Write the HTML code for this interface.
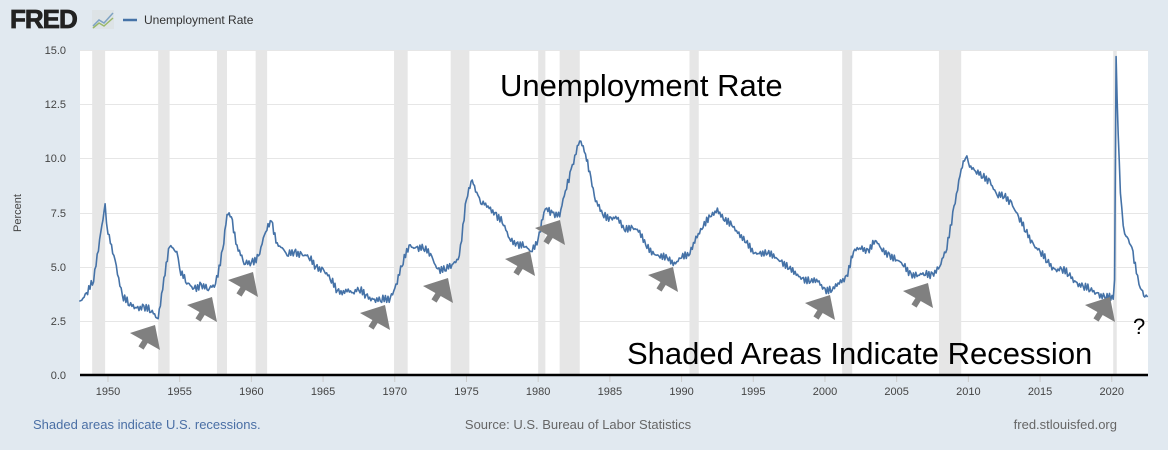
<!DOCTYPE html>
<html><head><meta charset="utf-8"><style>
body{margin:0;width:1168px;height:450px;background:#e1e9f0;font-family:"Liberation Sans",sans-serif;overflow:hidden}
</style></head><body>
<svg id="s" width="1168" height="450" xmlns="http://www.w3.org/2000/svg" style="position:absolute;left:0;top:0">
<text x="10" y="28" font-size="26" font-weight="bold" fill="#222" stroke="#222" stroke-width="0.8" letter-spacing="-1">FRED</text>
<rect x="92" y="10" width="22" height="19" fill="#dde3e6"/>
<polyline points="93,26 99,20 104,23 113,13" fill="none" stroke="#7fa3c4" stroke-width="1.5"/>
<polyline points="93,28 99,23 104,26 113,18" fill="none" stroke="#9ab86a" stroke-width="1.5"/>
<line x1="123" y1="20" x2="137" y2="20" stroke="#4572a7" stroke-width="2.5"/>
<text x="144" y="24" font-size="12" fill="#333">Unemployment Rate</text>
<rect x="80" y="50" width="1068" height="325" fill="#fff"/>
<g id="rec" fill="#e6e6e6"></g>
<g stroke="#e6e6e6" stroke-width="1">
<line x1="80" x2="1148" y1="50.5" y2="50.5"/><line x1="80" x2="1148" y1="104.5" y2="104.5"/>
<line x1="80" x2="1148" y1="158.5" y2="158.5"/><line x1="80" x2="1148" y1="213.5" y2="213.5"/>
<line x1="80" x2="1148" y1="267.5" y2="267.5"/><line x1="80" x2="1148" y1="321.5" y2="321.5"/>
</g>
<g font-size="11" fill="#444" text-anchor="end">
<text x="66" y="54">15.0</text><text x="66" y="108">12.5</text><text x="66" y="162">10.0</text>
<text x="66" y="217">7.5</text><text x="66" y="271">5.0</text><text x="66" y="325">2.5</text><text x="66" y="379">0.0</text>
</g>
<text transform="translate(21,213) rotate(-90)" font-size="11" fill="#444" text-anchor="middle">Percent</text>
<g id="xt" font-size="11" fill="#444" text-anchor="middle"></g>
<polyline id="ln" fill="none" stroke="#4572a7" stroke-width="1.6" stroke-linejoin="round"/>
<line x1="80" x2="1148" y1="375" y2="375" stroke="#000" stroke-width="2.5"/>
<g id="ar" fill="#808080"></g>
<text x="500" y="96" font-size="31" fill="#000">Unemployment Rate</text>
<text x="627" y="364" font-size="31" fill="#000">Shaded Areas Indicate Recession</text>
<text x="1133" y="334" font-size="22" fill="#000">?</text>
<text x="33" y="429" font-size="13" fill="#4a6fa5">Shaded areas indicate U.S. recessions.</text>
<text x="578" y="429" font-size="13" fill="#666" text-anchor="middle">Source: U.S. Bureau of Labor Statistics</text>
<text x="1117" y="429" font-size="13" fill="#666" text-anchor="end">fred.stlouisfed.org</text>
</svg>
<script>
var X=function(y){return 80+(y-1948.05)*14.34},Y=function(v){return 375-v*21.67};
var NS="http://www.w3.org/2000/svg";
var rec=[[1948.9,1949.8],[1953.5,1954.3],[1957.6,1958.3],[1960.3,1961.1],[1969.95,1970.9],[1973.9,1975.2],[1980.0,1980.5],[1981.5,1982.9],[1990.55,1991.2],[2001.2,2001.9],[2007.95,2009.5],[2020.1,2020.35]];
var g=document.getElementById('rec');
rec.forEach(function(r){var e=document.createElementNS(NS,'rect');e.setAttribute('x',X(r[0]));e.setAttribute('y',50);e.setAttribute('width',X(r[1])-X(r[0]));e.setAttribute('height',325);g.appendChild(e);});
var xt=document.getElementById('xt');
for(var yr=1950;yr<=2020;yr+=5){var t=document.createElementNS(NS,'text');t.setAttribute('x',X(yr));t.setAttribute('y',395);t.textContent=yr;xt.appendChild(t);
var l=document.createElementNS(NS,'line');l.setAttribute('x1',X(yr));l.setAttribute('x2',X(yr));l.setAttribute('y1',375);l.setAttribute('y2',382);l.setAttribute('stroke','#ccc');xt.appendChild(l);}
var d=[1948.0,3.4,1948.5,3.8,1949.0,4.3,1949.5,6.6,1949.8,7.9,1950.0,6.5,1950.5,5.3,1951.0,3.7,1951.5,3.2,1952.0,3.1,1952.5,3.2,1953.0,2.9,1953.5,2.6,1953.9,4.5,1954.3,5.9,1954.8,5.7,1955.0,4.9,1955.5,4.2,1956.0,4.0,1956.5,4.2,1957.0,3.9,1957.5,4.2,1958.0,5.8,1958.3,7.4,1958.6,7.3,1959.0,6.0,1959.5,5.1,1960.0,5.2,1960.5,5.5,1961.0,6.6,1961.4,7.1,1961.8,6.1,1962.5,5.5,1963.0,5.7,1963.5,5.6,1964.0,5.4,1964.5,5.0,1965.0,4.9,1965.5,4.4,1966.0,3.9,1967.0,3.8,1967.5,3.9,1968.0,3.7,1968.5,3.5,1969.0,3.4,1969.7,3.6,1970.0,4.0,1970.5,5.0,1971.0,6.0,1971.5,5.9,1972.0,5.8,1972.5,5.6,1973.0,4.9,1973.5,4.8,1974.0,5.1,1974.5,5.5,1975.0,8.1,1975.4,9.0,1975.8,8.3,1976.0,7.9,1976.5,7.8,1977.0,7.5,1977.5,7.0,1978.0,6.3,1978.5,6.1,1979.0,5.9,1979.5,5.7,1980.0,6.3,1980.4,7.5,1980.6,7.7,1981.0,7.5,1981.5,7.3,1981.9,8.5,1982.3,9.5,1982.9,10.8,1983.3,10.2,1983.6,9.4,1984.0,8.0,1984.5,7.4,1985.0,7.3,1985.5,7.2,1986.0,6.7,1986.5,6.9,1987.0,6.6,1987.5,6.0,1988.0,5.7,1988.5,5.4,1989.0,5.4,1989.5,5.2,1990.0,5.4,1990.5,5.5,1991.0,6.4,1991.5,6.8,1992.0,7.3,1992.5,7.7,1993.0,7.1,1993.5,6.9,1994.0,6.6,1994.5,6.1,1995.0,5.6,1995.5,5.7,1996.0,5.6,1996.5,5.4,1997.0,5.3,1997.5,4.9,1998.0,4.6,1998.5,4.5,1999.0,4.3,1999.5,4.3,2000.0,4.0,2000.5,3.9,2001.0,4.2,2001.5,4.6,2002.0,5.7,2002.5,5.8,2003.0,5.8,2003.5,6.2,2004.0,5.7,2004.5,5.6,2005.0,5.3,2005.5,5.0,2006.0,4.7,2006.5,4.6,2007.0,4.6,2007.5,4.7,2008.0,5.0,2008.5,5.8,2009.0,7.8,2009.5,9.5,2009.8,10.0,2010.0,9.8,2010.5,9.4,2011.0,9.1,2011.5,9.0,2012.0,8.3,2012.5,8.2,2013.0,8.0,2013.5,7.3,2014.0,6.6,2014.5,6.1,2015.0,5.7,2015.5,5.2,2016.0,4.9,2016.5,4.9,2017.0,4.6,2017.5,4.3,2018.0,4.1,2018.5,3.9,2019.0,3.8,2019.5,3.6,2020.1,3.5,2020.2,4.4,2020.3,14.7,2020.45,11.1,2020.6,8.4,2020.8,6.9,2021.0,6.4,2021.4,5.9,2021.8,4.6,2022.0,4.0,2022.3,3.6,2022.5,3.6];
var p=[];for(var i=0;i<d.length-2;i+=2){var x0=d[i],v0=d[i+1],x1=d[i+2],v1=d[i+3];var n=Math.max(1,Math.round((x1-x0)*12));for(var k=0;k<n;k++){var f=k/n;var v=v0+(v1-v0)*f;if(k>0)v+=(Math.sin(i*7.3+k*3.1)*0.15+Math.sin(i*2.1+k*5.7)*0.08);p.push(X(x0+(x1-x0)*f).toFixed(1)+','+Y(v).toFixed(1));}}
p.push(X(2022.5)+','+Y(3.6));
document.getElementById('ln').setAttribute('points',p.join(' '));
var offs=[[0,0],[57,-28],[98,-53],[230,-20],[293,-47],[375,-74],[405,-105],[518,-58],[675,-30],[773,-42],[955,-28]];
var ar=document.getElementById('ar');
offs.forEach(function(o){var gg=document.createElementNS(NS,'g');gg.setAttribute('transform','translate('+o[0]+','+o[1]+')');
gg.innerHTML='<polygon points="130,333 155,325 160,350"/><line x1="146" y1="340" x2="141" y2="348" stroke="#808080" stroke-width="6"/>';ar.appendChild(gg);});
</script>
</body></html>
